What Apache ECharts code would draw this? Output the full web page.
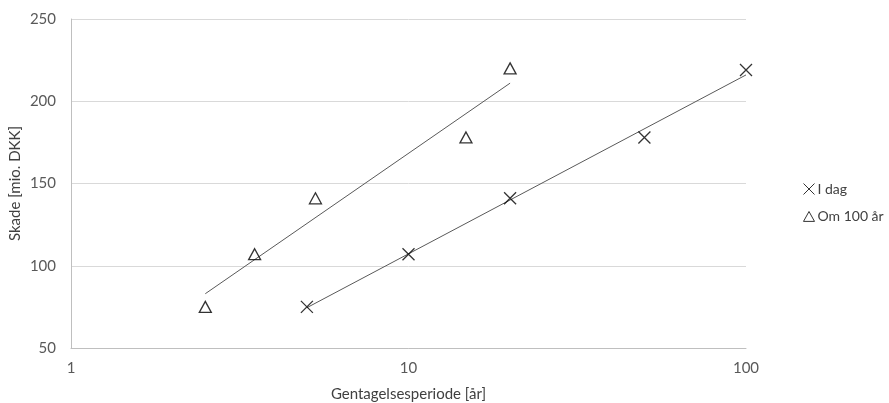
<!DOCTYPE html>
<html><head><meta charset="utf-8">
<script src="https://cdn.jsdelivr.net/npm/echarts@6/dist/echarts.min.js"></script>
<style>html,body{margin:0;padding:0;background:#fff}#c{width:889px;height:403px}</style>
</head><body><div id="c"></div>
<script>
const yTicks = [50, 100, 150, 200, 250];
const xTicks = [1, 10, 100];
const seriesNames = ['I dag', 'Om 100 år'];
const idagX = [5, 10, 20, 50, 100];
const idagY = [75, 107, 141, 178, 219];
const om100X = [2.5, 3.5, 5.3, 14.8, 20];
const om100Y = [75, 107, 141, 178, 220];
// trend line end points
const trendIdag = [[5, 74.5], [100, 216]];
const trendOm100 = [[2.5, 83], [20, 211]];

const crossPath = 'path://M0,0L10,10M10,0L0,10';
const triPath = 'path://M5,0L10,9L0,9Z';
const font = 'Lato, "Open Sans", sans-serif';

const chart = echarts.init(document.getElementById('c'));
chart.setOption({
  animation: false,
  grid: { left: 71, right: 143, top: 19, bottom: 55, containLabel: false, outerBoundsMode: 'none' },
  legend: {
    orient: 'vertical', left: 796, top: 176, itemGap: 12,
    itemWidth: 11, itemHeight: 11,
    textStyle: { fontFamily: font, fontSize: 14, color: '#404040', padding: [0, 0, 0, -2] },
    data: [
      { name: seriesNames[0], icon: crossPath, itemStyle: { borderWidth: 1 } },
      { name: seriesNames[1], icon: triPath, itemStyle: { borderWidth: 1 } }
    ]
  },
  xAxis: {
    type: 'log', min: xTicks[0], max: xTicks[xTicks.length-1], logBase: 10,
    name: 'Gentagelsesperiode [år]', nameLocation: 'middle', nameGap: 39, nameMoveOverlap: false,
    nameTextStyle: { fontFamily: font, fontSize: 15, color: '#404040' },
    axisLine: { lineStyle: { color: '#bfbfbf', width: 1 } },
    axisTick: { show: false },
    splitLine: { show: false },
    minorTick: { show: false },
    axisLabel: { fontFamily: font, fontSize: 15, color: '#595959', margin: 13 }
  },
  yAxis: {
    type: 'value', min: yTicks[0], max: yTicks[yTicks.length-1], interval: 50,
    name: 'Skade [mio. DKK]', nameLocation: 'middle', nameGap: 48, nameMoveOverlap: false,
    nameTextStyle: { fontFamily: font, fontSize: 15, color: '#404040' },
    axisLine: { show: true, lineStyle: { color: '#bfbfbf', width: 1 } },
    axisTick: { show: false },
    splitLine: { lineStyle: { color: '#d9d9d9', width: 1 } },
    axisLabel: { fontFamily: font, fontSize: 15, color: '#595959', margin: 15 }
  },
  series: [
    {
      name: seriesNames[0], type: 'scatter', symbol: crossPath, symbolSize: 12,
      itemStyle: { color: 'none', borderColor: '#000', borderWidth: 1.3 },
      data: idagX.map((x, i) => [x, idagY[i]]), z: 3
    },
    {
      name: seriesNames[1], type: 'scatter', symbol: triPath, symbolSize: [12, 11],
      itemStyle: { color: 'none', borderColor: '#000', borderWidth: 1.3 },
      data: om100X.map((x, i) => [x, om100Y[i]]), z: 3
    },
    {
      name: 'trend1', type: 'line', data: trendIdag, showSymbol: false, symbol: 'none',
      lineStyle: { color: '#595959', width: 1 }, silent: true, z: 2
    },
    {
      name: 'trend2', type: 'line', data: trendOm100, showSymbol: false, symbol: 'none',
      lineStyle: { color: '#595959', width: 1 }, silent: true, z: 2
    }
  ]
});
</script></body></html>
